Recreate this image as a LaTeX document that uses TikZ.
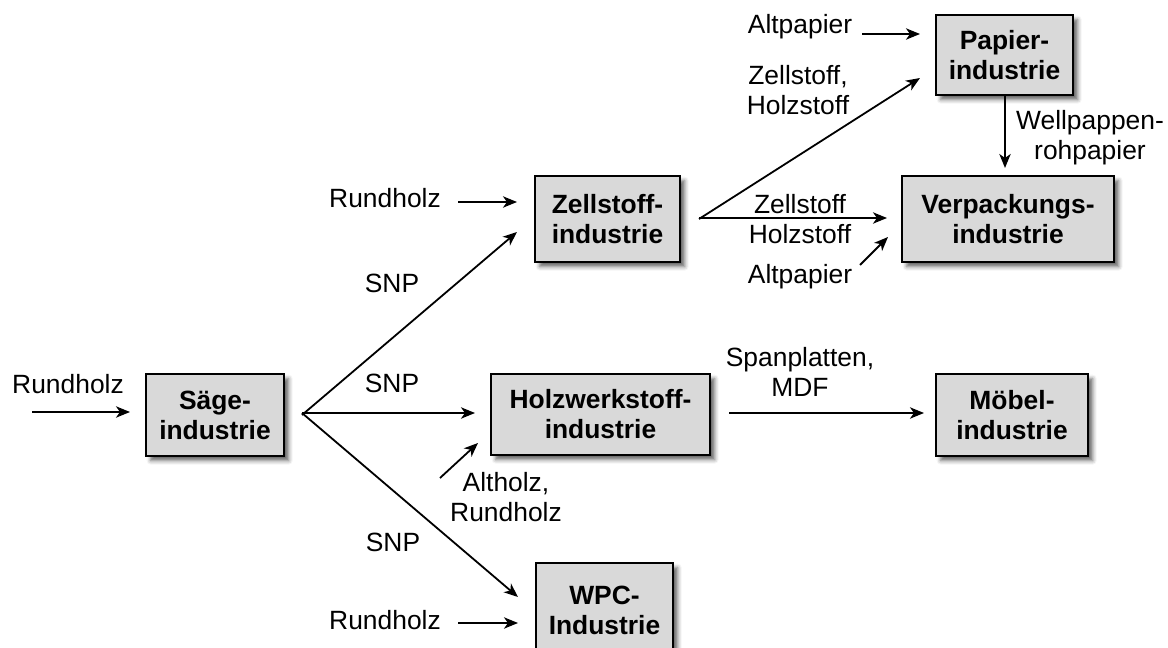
\documentclass[tikz,border=0pt]{standalone}
\usepackage{fontspec}
\setmainfont{Liberation Sans}
\usetikzlibrary{arrows.meta,shadows.blur}

\begin{document}
\begin{tikzpicture}[x=0.75pt,y=-0.75pt,
  txt/.style={font=\fontsize{19.8}{22.5}\selectfont},
  box/.style={font=\bfseries\fontsize{19.8}{22.5}\selectfont,
    draw=black, line width=1.7pt, fill=black!15, align=center, inner sep=0pt,
    blur shadow={shadow xshift=3.5pt, shadow yshift=-3.5pt,
      shadow blur radius=3pt, shadow opacity=60}},
  lbl/.style={txt, align=center, inner sep=0pt},
  flow/.style={-{Stealth[length=10.5pt,width=8.5pt,inset=3pt]}, line width=1.35pt}
]
\clip (0,0) rectangle (1168,648);

% industries
\node[box, minimum width=103.5pt, minimum height=61.5pt] (saege) at (215,415) {Säge-\\industrie};
\node[box, minimum width=108.75pt, minimum height=64.5pt] (zell) at (607.5,219) {Zellstoff-\\industrie};
\node[box, minimum width=164.25pt, minimum height=60.75pt] (hwst) at (600.5,414.5) {Holzwerkstoff-\\industrie};
\node[box, minimum width=102.75pt, minimum height=70.5pt] (wpc) at (604.5,610) {WPC-\\Industrie};
\node[box, minimum width=102.75pt, minimum height=60pt] (papier) at (1004.5,55) {Papier-\\industrie};
\node[box, minimum width=159pt, minimum height=64.5pt] (verp) at (1008,219) {Verpackungs-\\industrie};
\node[box, minimum width=114pt, minimum height=61.5pt] (moebel) at (1012,415) {Möbel-\\industrie};

% branching points and arrow ends
\coordinate (fanS) at (302,413);
\coordinate (fanZ) at (699,218);
\coordinate (inSaege) at (32,412);
\coordinate (tipSaege) at (130,412);
\coordinate (inZell) at (458,202);
\coordinate (tipZellR) at (517,202);
\coordinate (tipZellS) at (517,232);
\coordinate (tipHwst) at (475,413);
\coordinate (inAltholz) at (440,478);
\coordinate (tipAltholz) at (478,443);
\coordinate (tipWpcS) at (518,597);
\coordinate (inWpc) at (458,623);
\coordinate (tipWpcR) at (518,623);
\coordinate (inPapier) at (862,34);
\coordinate (tipPapierA) at (920,34);
\coordinate (tipPapierZ) at (920,78);
\coordinate (tipVerpZ) at (887,218);
\coordinate (inVerpA) at (860,265);
\coordinate (tipVerpA) at (888,237);
\coordinate (outHwst) at (729,413);
\coordinate (tipMoebel) at (924,413);
\coordinate (tipVerpW) at (1005,168);

% flows
\draw[flow] (inSaege) -- (tipSaege);
\draw[flow] (saege.east -| fanS) -- (tipZellS);
\draw[flow] (fanS) -- (tipHwst);
\draw[flow] (fanS) -- (tipWpcS);
\draw[flow] (inZell) -- (tipZellR);
\draw[flow] (inAltholz) -- (tipAltholz);
\draw[flow] (inWpc) -- (tipWpcR);
\draw[flow] (zell.east -| fanZ) -- (tipPapierZ);
\draw[flow] (fanZ) -- (tipVerpZ);
\draw[flow] (inPapier) -- (tipPapierA);
\draw[flow] (inVerpA) -- (tipVerpA);
\draw[flow] (outHwst) -- (tipMoebel);
\draw[flow] (papier.south -| tipVerpW) -- (tipVerpW);

% labels
\node[lbl] (lRundS) at (68,384) {Rundholz};
\node[lbl] (lSnp1) at (392,283) {SNP};
\node[lbl] (lSnp2) at (392,383) {SNP};
\node[lbl] (lSnp3) at (393,542) {SNP};
\node[lbl] (lRundZ) at (385,198) {Rundholz};
\node[lbl] (lRundW) at (385,620) {Rundholz};
\node[lbl] (lAltholz) at (506,497) {Altholz,\\Rundholz};
\node[lbl] (lAltpO) at (800,27) {Altpapier};
\node[lbl] (lZellO) at (798,90) {Zellstoff,\\Holzstoff};
\node[lbl] (lZellU) at (800,219) {Zellstoff\\Holzstoff};
\node[lbl] (lAltpU) at (800,277) {Altpapier};
\node[lbl] (lWell) at (1090,138) {Wellpappen-\\rohpapier};
\node[lbl] (lSpan) at (800,372) {Spanplatten,\\MDF};
\end{tikzpicture}
\end{document}
